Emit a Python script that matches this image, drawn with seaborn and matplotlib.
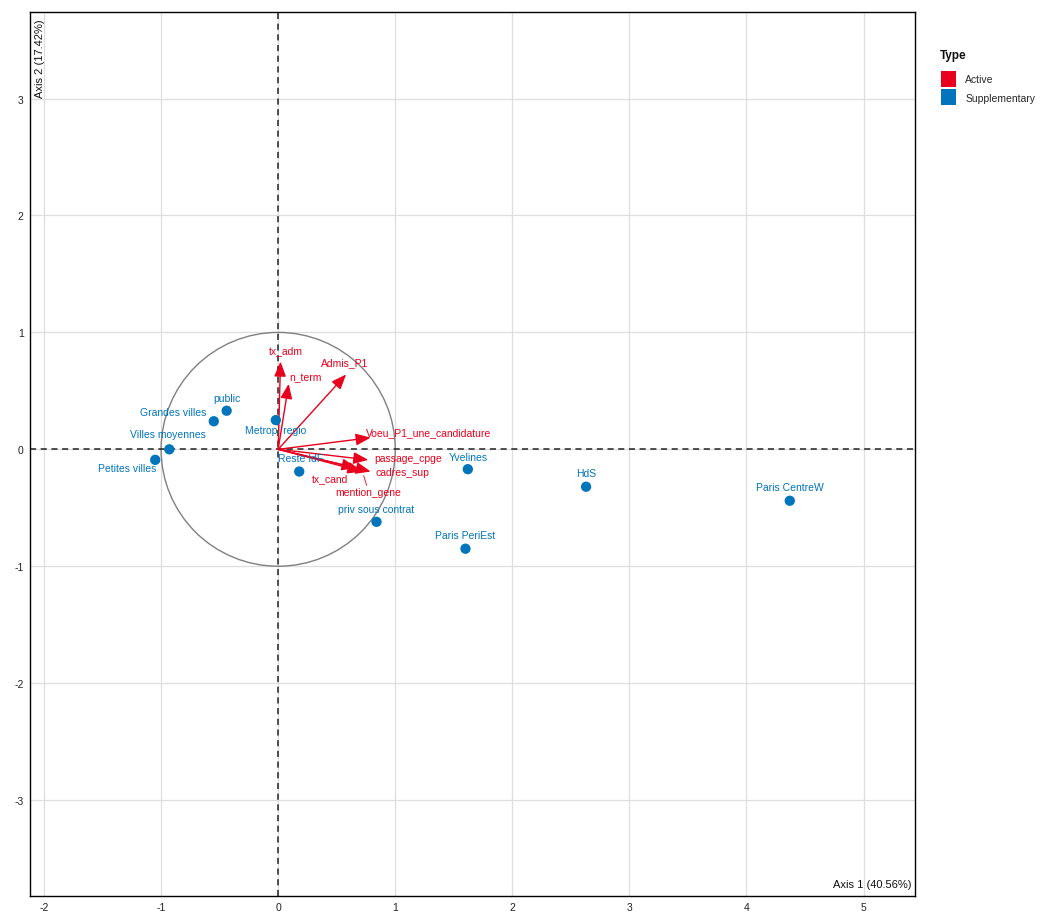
import matplotlib
matplotlib.use("Agg")
import matplotlib.pyplot as plt
from matplotlib.patches import Circle, Patch
import seaborn as sns
import pandas as pd

# Active variables (arrows from the origin)
active_names = ["tx_adm", "n_term", "Admis_P1", "Voeu_P1_une_candidature",
                "passage_cpge", "cadres_sup", "tx_cand", "mention_gene"]
active_x = [0.02, 0.09, 0.58, 0.79, 0.77, 0.79, 0.67, 0.72]
active_y = [0.75, 0.56, 0.64, 0.10, -0.09, -0.19, -0.16, -0.19]

# Supplementary categories (points)
supp_names = ["public", "Grandes villes", "Metrop. regio", "Villes moyennes",
              "Petites villes", "Reste IdF", "priv sous contrat", "Yvelines",
              "HdS", "Paris CentreW", "Paris PeriEst"]
supp_x = [-0.44, -0.55, -0.02, -0.93, -1.05, 0.18, 0.84, 1.62, 2.63, 4.37, 1.60]
supp_y = [0.33, 0.24, 0.25, 0.00, -0.09, -0.19, -0.62, -0.17, -0.32, -0.44, -0.85]

axis1_label = "Axis 1 (40.56%)"
axis2_label = "Axis 2 (17.42%)"
x_ticks = [-2, -1, 0, 1, 2, 3, 4, 5]
y_ticks = [-3, -2, -1, 0, 1, 2, 3]

RED = "#E8001C"
BLUE = "#0075BC"

# label offsets (points) so texts sit clear of their marks
active_offsets = {
    "tx_adm": (4, 8), "n_term": (12, 5), "Admis_P1": (-1, 9),
    "Voeu_P1_une_candidature": (42, 4), "passage_cpge": (29, 1),
    "cadres_sup": (23, 0), "tx_cand": (-19, -7), "mention_gene": (4, -15),
}
supp_offsets = {
    "public": (0, 9), "Grandes villes": (-29, 7), "Metrop. regio": (0, -7),
    "Villes moyennes": (-1, 11), "Petites villes": (-20, -6),
    "Reste IdF": (1, 10), "priv sous contrat": (0, 9), "Yvelines": (0, 9),
    "HdS": (0, 10), "Paris CentreW": (0, 10), "Paris PeriEst": (0, 10),
}

sns.set_theme(style="white")
plt.rcParams["font.family"] = ["Liberation Sans", "DejaVu Sans"]

fig = plt.figure(figsize=(10.37, 9.12), dpi=100)
ax = fig.add_axes([0.0289, 0.0165, 0.8535, 0.9692])

ax.set_xlim(-2.12, 5.44)
ax.set_ylim(-3.82, 3.74)
ax.set_xticks(x_ticks)
ax.set_yticks(y_ticks)
ax.set_xticklabels([str(t) for t in x_ticks])
ax.set_yticklabels([str(t) for t in y_ticks])
ax.grid(True, color="#DEDEDE", lw=0.9)
ax.set_axisbelow(True)
ax.tick_params(axis="both", labelsize=7.5, length=3, width=0.8, color="#888888",
               pad=1.5, labelcolor="#222222")
for s in ax.spines.values():
    s.set_color("black")
    s.set_linewidth(1.0)

# unit correlation circle and axis lines
ax.add_patch(Circle((0, 0), 1, fill=False, color="#808080", lw=1.0, zorder=2))
ax.axhline(0, color="#222222", lw=1.1, ls=(0, (4, 3)), zorder=2)
ax.axvline(0, color="#222222", lw=1.1, ls=(0, (4, 3)), zorder=2)

# supplementary points
supp = pd.DataFrame({"name": supp_names, "x": supp_x, "y": supp_y})
sns.scatterplot(data=supp, x="x", y="y", color=BLUE, s=55, edgecolor="none",
                ax=ax, zorder=4, legend=False)
for n, x, y in zip(supp_names, supp_x, supp_y):
    dx, dy = supp_offsets[n]
    ax.annotate(n, (x, y), xytext=(dx, dy), textcoords="offset points",
                ha="center", va="center", fontsize=7.5, color=BLUE, zorder=5)

# active variable arrows
for n, x, y in zip(active_names, active_x, active_y):
    ax.annotate("", xy=(x, y), xytext=(0, 0),
                arrowprops=dict(arrowstyle="-|>,head_length=0.75,head_width=0.3",
                                color=RED, lw=1.0, shrinkA=0, shrinkB=0),
                zorder=3)
    dx, dy = active_offsets[n]
    ax.annotate(n, (x, y), xytext=(dx, dy), textcoords="offset points",
                ha="center", va="center", fontsize=7.5, color=RED, zorder=5)
# leader line for the crowded label
i = active_names.index("mention_gene")
ax.annotate("", (active_x[i], active_y[i]),
            xytext=(active_offsets["mention_gene"][0] - 1, -10),
            textcoords="offset points",
            arrowprops=dict(arrowstyle="-", color=RED, lw=0.6, shrinkA=0, shrinkB=3))

ax.set_xlabel("")
ax.set_ylabel("")
ax.text(0.996, 0.008, axis1_label, transform=ax.transAxes, ha="right", va="bottom",
        fontsize=8, color="#111111")
ax.text(0.006, 0.993, axis2_label, transform=ax.transAxes, ha="left", va="top",
        rotation=90, fontsize=8, color="#111111")

# legend: bold title set apart from the colour keys
fig.text(0.9065, 0.9386, "Type", ha="left", va="center", fontsize=8.5,
         fontweight="bold", color="#111111")
handles = [Patch(facecolor=RED, edgecolor="none", label="Active"),
           Patch(facecolor=BLUE, edgecolor="none", label="Supplementary")]
fig.legend(handles=handles, loc="upper left", bbox_to_anchor=(0.9074, 0.921),
           frameon=False, fontsize=7.5, borderaxespad=0, borderpad=0,
           handlelength=1.45, handleheight=2.0, handletextpad=0.9,
           labelspacing=0.2)

fig.savefig("out.png", dpi=100)
